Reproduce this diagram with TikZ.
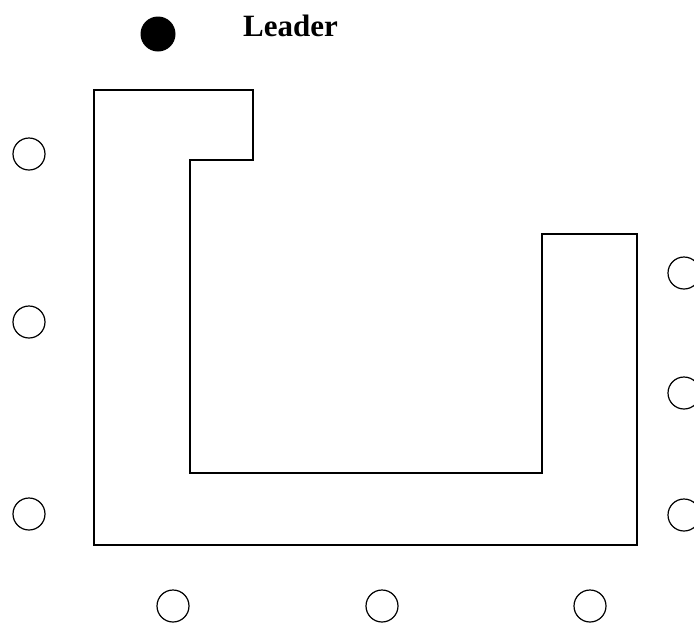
\documentclass[tikz,border=0pt]{standalone}
\usepackage{fontspec}
\setmainfont{Liberation Serif}
\usetikzlibrary{positioning}

\begin{document}
\begin{tikzpicture}[
    x=1pt, y=-1pt,
    % Styles for the members and the leader
    member/.style={circle, draw=black, line width=1.2pt, minimum size=32pt, inner sep=0pt},
    leader/.style={circle, fill=black, minimum size=35pt, inner sep=0pt},
    title/.style={font=\fontsize{31}{33}\selectfont\bfseries, inner sep=0pt, anchor=base west},
    wall/.style={draw=black, line width=1.8pt, line join=miter}
]
  \useasboundingbox (0,0) rectangle (694,625);

  % --- LEADER ---
  \node[leader] (lead) at (158,34) {};
  \node[title] (leadtext) at (243,36) {Leader};

  % --- THE WALL ---
  \draw[wall] (94,90) -- (253,90) -- (253,160) -- (190,160) -- (190,473)
    -- (542,473) -- (542,234) -- (637,234) -- (637,545) -- (94,545) -- cycle;

  % --- LEFT MEMBERS ---
  \node[member] (left1) at (29,154) {};
  \node[member] (left2) at (29,322) {};
  \node[member] (left3) at (29,514) {};

  % --- RIGHT MEMBERS ---
  \node[member] (right1) at (684,273) {};
  \node[member] (right2) at (684,393) {};
  \node[member] (right3) at (684,515) {};

  % --- BOTTOM MEMBERS ---
  \node[member] (bot1) at (173,606) {};
  \node[member] (bot2) at (382,606) {};
  \node[member] (bot3) at (590,606) {};

\end{tikzpicture}
\end{document}
